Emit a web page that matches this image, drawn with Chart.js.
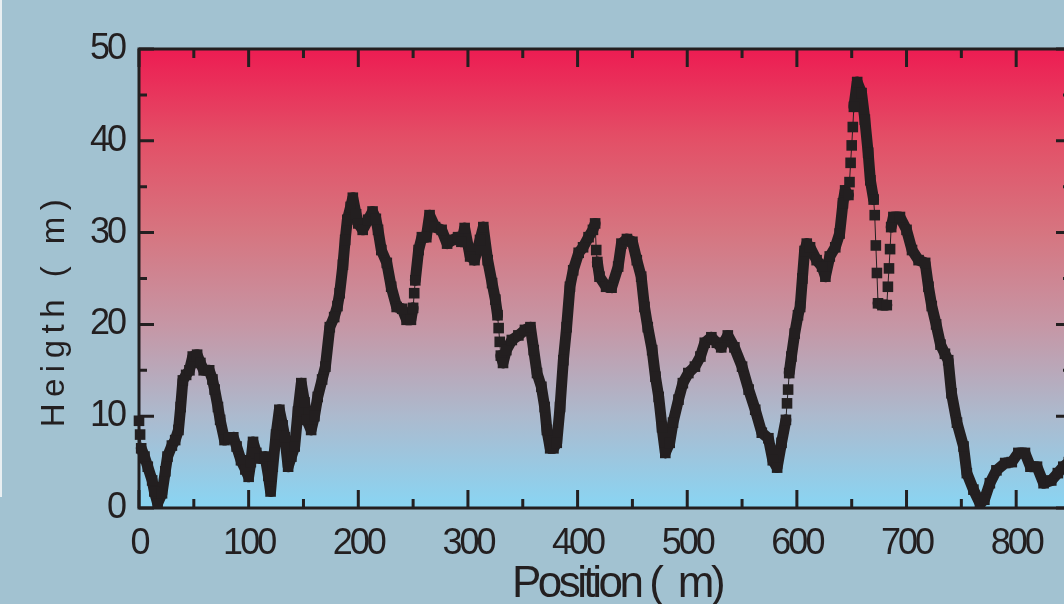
<!DOCTYPE html>
<html><head><meta charset="utf-8">
<script src="https://cdn.jsdelivr.net/npm/chart.js@4/dist/chart.umd.min.js"></script>
<style>
html,body{margin:0;padding:0;overflow:hidden;background:#a2c2d1;width:1064px;height:604px}
#wrap{position:absolute;left:0;top:0;width:1080px;height:604px}
</style>
</head><body><div id="wrap"><canvas id="c" width="1080" height="604"></canvas></div>
<script>
const positions = [0,1,2,5,8,12,14,17,21,24,26,30,33,36,38,40,43,46,49,53,56,59,64,67,69,72,74,78,82,86,89,93,97,100,102,104,107,110,115,118,120,122,125,128,131,133,136,139,142,145,148,151,153,157,160,163,167,170,174,178,181,183,186,188,190,193,195,198,200,204,209,213,216,218,221,226,230,235,240,244,248,250,251,252,255,258,262,265,270,276,281,286,291,294,297,302,306,311,314,318,322,325,327,328,329,330,332,335,340,346,352,357,360,363,367,370,372,375,378,381,384,387,390,393,396,401,405,410,414,416,417,418,420,426,431,437,440,445,450,454,458,461,464,468,471,474,477,480,484,487,492,496,501,507,512,516,522,527,531,537,543,550,556,562,568,574,578,582,586,590,591,592,593,595,598,601,603,605,607,609,612,618,623,626,630,635,639,642,644,647,648,649,650,651,652,655,659,662,665,667,670,671,672,673,674,678,682,683,684,685,686,688,694,700,705,711,717,720,723,727,731,735,738,741,746,752,755,761,767,771,776,782,790,796,802,808,813,819,825,832,838,843,848];
const heights = [9.5,8.0,6.5,5.6,4.5,3.0,1.8,0.5,1.6,4.0,5.6,6.8,7.4,8.5,11.0,13.9,14.5,15.0,16.5,16.7,15.8,15.0,15.0,14.0,12.9,11.0,9.6,7.4,7.6,7.7,6.7,5.2,4.2,3.4,5.0,7.2,6.0,5.4,5.6,3.5,1.8,4.5,8.0,10.7,9.0,7.7,4.5,5.6,6.7,10.5,13.6,11.5,9.6,8.5,10.0,12.1,14.0,15.4,19.7,20.8,22.0,23.4,26.5,29.2,31.4,32.8,33.8,32.0,31.0,30.3,31.4,32.3,31.5,30.3,28.1,26.7,24.1,21.9,21.7,20.5,20.5,21.8,23.4,24.8,28.1,29.5,29.5,31.9,30.6,30.3,28.8,29.2,29.5,29.0,30.5,27.4,27.0,29.2,30.6,27.0,24.5,22.7,21.0,19.6,18.1,16.6,15.8,17.2,18.3,18.8,19.4,19.7,17.2,14.7,13.2,11.0,8.5,6.5,6.5,7.1,11.0,16.1,19.7,24.1,25.9,27.8,28.4,29.5,30.3,31.0,28.1,26.8,25.2,24.1,24.0,26.3,28.8,29.3,29.0,27.0,25.2,21.9,19.7,17.2,14.3,12.1,8.8,6.0,7.1,9.3,11.8,13.6,14.7,15.4,16.5,18.0,18.6,18.0,17.5,18.8,17.5,15.4,12.9,10.7,8.2,7.6,5.2,4.4,7.1,9.6,11.4,12.9,14.7,16.5,19.0,21.0,21.9,25.0,28.0,28.8,28.4,27.0,26.3,25.2,27.4,28.4,29.9,33.2,34.6,34.1,35.5,37.6,39.5,41.5,43.7,46.4,45.2,42.3,38.7,35.7,33.6,31.9,28.6,25.6,22.3,22.1,22.1,24.1,26.1,28.2,30.6,31.7,31.7,30.3,28.1,27.0,26.7,24.1,22.0,20.0,17.8,16.8,16.1,12.5,9.3,6.7,3.8,2.0,0.5,0.9,2.7,4.1,4.9,5.0,6.0,6.0,4.5,4.5,2.7,3.0,3.8,4.5,5.0];
const xTickValues = [0,100,200,300,400,500,600,700,800];
const xTickLabels = ['0','100','200','300','400','500','600','700','800'];
const yTickValues = [0,10,20,30,40,50];
const yTickLabels = ['0','10','20','30','40','50'];
const xTitle = 'Position (  m)';
const yTitle = 'Heigth ( m)';

const INK = '#231f20';

const bgPlugin = {
  id: 'bg',
  beforeDraw(chart) {
    const {ctx, chartArea: a} = chart;
    ctx.save();
    ctx.letterSpacing = '0px';
    ctx.fillStyle = '#a2c2d1';
    ctx.fillRect(0, 0, chart.width, chart.height);
    ctx.fillStyle = '#e9eff2';
    ctx.fillRect(0, 0, 2, 497);
    const g = ctx.createLinearGradient(0, a.top, 0, a.bottom);
    g.addColorStop(0.0, 'rgb(237,28,82)');
    g.addColorStop(0.2, 'rgb(227,80,103)');
    g.addColorStop(0.4, 'rgb(214,117,128)');
    g.addColorStop(0.6, 'rgb(198,150,165)');
    g.addColorStop(0.8, 'rgb(172,186,206)');
    g.addColorStop(1.0, 'rgb(137,213,243)');
    ctx.fillStyle = g;
    ctx.fillRect(a.left, a.top, a.right - a.left, a.bottom - a.top);
    ctx.restore();
    ctx.letterSpacing = '-3px';
  },
  beforeDatasetsDraw(chart) {
    const {ctx, chartArea: a, scales: {x, y}} = chart;
    ctx.save();
    ctx.strokeStyle = INK;
    ctx.lineWidth = 3;
    ctx.lineCap = 'butt';
    ctx.beginPath();
    const xMax = x.max;
    for (let i = 0; i < xTickValues.length; i++) {
      const vals = [[xTickValues[i], 18], [xTickValues[i] + 50, 9]];
      for (const [v, len] of vals) {
        if (v > xMax) continue;
        const px = x.getPixelForValue(v);
        ctx.moveTo(px, a.bottom); ctx.lineTo(px, a.bottom - len);
        ctx.moveTo(px, a.top); ctx.lineTo(px, a.top + len);
      }
    }
    for (let i = 0; i < yTickValues.length; i++) {
      const vals = [[yTickValues[i], 15], [yTickValues[i] + 5, 8]];
      for (const [v, len] of vals) {
        if (v > y.max) continue;
        const py = y.getPixelForValue(v);
        ctx.moveTo(a.left, py); ctx.lineTo(a.left + len, py);
        ctx.moveTo(a.right, py); ctx.lineTo(a.right - len, py);
      }
    }
    ctx.stroke();
    ctx.strokeRect(a.left, a.top, a.right - a.left, a.bottom - a.top);
    ctx.restore();
  },
  afterDraw(chart) {
    const {ctx} = chart;
    ctx.save();
    ctx.fillStyle = INK;
    ctx.textBaseline = 'alphabetic';
    ctx.textAlign = 'center';
    ctx.letterSpacing = '-3.5px';
    ctx.font = '44px "Liberation Sans", Arial, sans-serif';
    ctx.fillText(xTitle, 617, 597);
    ctx.translate(64, 310);
    ctx.rotate(-Math.PI / 2);
    ctx.letterSpacing = '6.5px';
    ctx.font = '33px "Liberation Sans", Arial, sans-serif';
    ctx.fillText(yTitle, 0, 0);
    ctx.restore();
  }
};

new Chart(document.getElementById('c'), {
  type: 'line',
  data: {
    datasets: [{
      data: positions.map((p, i) => ({x: p, y: heights[i]})),
      borderColor: INK,
      backgroundColor: INK,
      borderWidth: 11,
      borderJoinStyle: 'round',
      borderCapStyle: 'round',
      pointStyle: 'rect',
      pointRadius: 7.5,
      pointBorderWidth: 0,
      pointBackgroundColor: INK,
      tension: 0,
      clip: 12,
      segment: {
        borderWidth: c => (Math.abs(c.p1.y - c.p0.y) > 11 && Math.abs(c.p1.x - c.p0.x) < 2) ? 1 : 11
      }
    }]
  },
  options: {
    responsive: false,
    animation: false,
    events: [],
    layout: {padding: {left: 0, right: 9, top: 49, bottom: 0}},
    plugins: {legend: {display: false}, tooltip: {enabled: false}},
    scales: {
      x: {
        type: 'linear', min: 0, max: 850,
        grid: {display: false, drawTicks: false},
        border: {display: false},
        afterFit: s => { s.height = 96; },
        afterBuildTicks: s => { s.ticks = xTickValues.map(v => ({value: v})); },
        ticks: {
          color: INK, padding: 14, maxRotation: 0, autoSkip: false,
          font: {family: '"Liberation Sans", Arial, sans-serif', size: 36},
          callback: (v) => xTickLabels[xTickValues.indexOf(v)]
        }
      },
      y: {
        type: 'linear', min: 0, max: 50,
        grid: {display: false, drawTicks: false},
        border: {display: false},
        afterFit: s => { s.width = 139; },
        afterBuildTicks: s => { s.ticks = yTickValues.map(v => ({value: v})); },
        ticks: {
          color: INK, padding: 15, autoSkip: false,
          font: {family: '"Liberation Sans", Arial, sans-serif', size: 36},
          callback: (v) => yTickLabels[yTickValues.indexOf(v)]
        }
      }
    }
  },
  plugins: [bgPlugin]
});
</script>
</body></html>
